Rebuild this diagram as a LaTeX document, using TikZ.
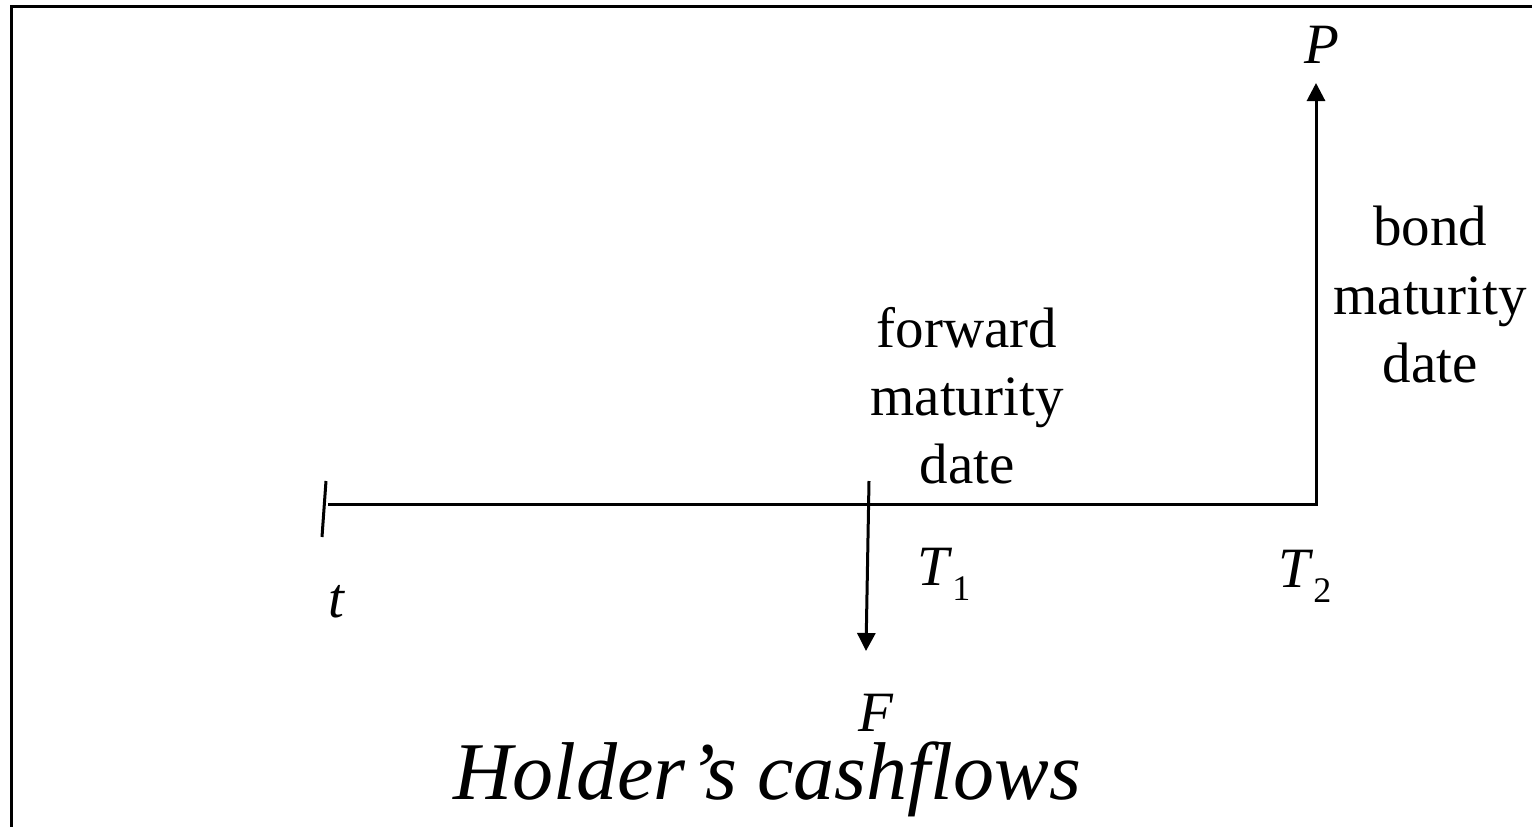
\documentclass[tikz,border=0pt]{standalone}
\usepackage{fontspec}
\setmainfont{Liberation Serif}
\usetikzlibrary{arrows.meta}
\tikzset{
  lbl/.style={inner sep=0pt, anchor=base, font=\fontsize{57}{68}\selectfont},
  title/.style={inner sep=0pt, anchor=base, font=\fontsize{82}{90}\selectfont\itshape},
  ln/.style={line width=3pt},
  arr/.style={ln, -{Triangle[width=18pt,length=18pt]}}
}
\newcommand{\subl}[1]{\raisebox{-15pt}{\fontsize{36}{40}\selectfont #1}}
\begin{document}
\begin{tikzpicture}[x=1pt,y=-1pt]
\useasboundingbox (0,0) rectangle (1532,827);
\clip (0,0) rectangle (1532,827);
\draw[ln] (11.5,6.5) rectangle (1560,860);
% coordinates
\coordinate (tl) at (328,504);
\coordinate (tc) at (1316,504);
\coordinate (ptip) at (1316,83);
\coordinate (ttop) at (326,481);
\coordinate (tbot) at (322,537);
\coordinate (ftop) at (869,481);
\coordinate (ftip) at (866,651);
% lines
\draw[arr] (tl) -- (tc) -- (ptip);
\draw[ln] (ttop) -- (tbot);
\draw[arr] (ftop) -- (ftip);
% labels
\node[lbl] (P) at (1322,63) {\textit{P}};
\node[lbl] (t) at (337,617) {\textit{t}};
\node[lbl, anchor=base west] (T1) at (917,585) {\textit{T}\subl{1}};
\node[lbl, anchor=base west] (T2) at (1278,587) {\textit{T}\subl{2}};
\node[lbl] (F) at (876,731) {\textit{F}};
\node[lbl] (fw1) at (967,347) {forward};
\node[lbl] (fw2) at (967,415) {maturity};
\node[lbl] (fw3) at (967,483) {date};
\node[lbl] (bd1) at (1430,245) {bond};
\node[lbl] (bd2) at (1430,314) {maturity};
\node[lbl] (bd3) at (1430,382) {date};
\node[title] (ttl) at (767,799) {Holder’s cashflows};
\end{tikzpicture}
\end{document}
